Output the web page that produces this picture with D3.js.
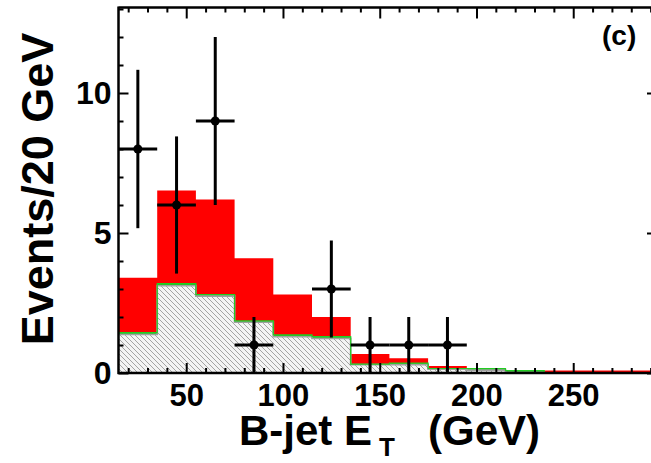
<!DOCTYPE html>
<html>
<head>
<meta charset="utf-8">
<script src="https://cdn.jsdelivr.net/npm/d3@7"></script>
<style>
  html, body { margin: 0; padding: 0; background: #fff; }
  svg { display: block; }
  text { font-family: "Liberation Sans", Arial, sans-serif; font-weight: bold; fill: #000; }
</style>
</head>
<body>
<svg id="chart" width="651" height="463"></svg>
<script>
// ---- data ----
const binLow = [15, 35, 55, 75, 95, 115, 135, 155, 175, 195, 215, 235, 255, 275];
const binWidth = 20;
const hatchedBkg = [1.38, 3.12, 2.75, 1.82, 1.30, 1.24, 0.30, 0.30, 0.14, 0.10, 0.02, 0.00, 0.00, 0.00];
const greenBkg   = [0.06, 0.07, 0.05, 0.04, 0.06, 0.06, 0.02, 0.05, 0.02, 0.06, 0.07, 0.01, 0.00, 0.00];
const redSignal  = [1.96, 3.33, 3.40, 2.24, 1.44, 0.70, 0.36, 0.18, 0.09, 0.00, 0.00, 0.08, 0.09, 0.09];
const dataX = [25, 45, 65, 85, 125, 145, 165, 185];
const dataY = [8, 6, 9, 1, 3, 1, 1, 1];
const xTickValues = [50, 100, 150, 200, 250];
const yTickValues = [0, 5, 10];
const xTitle = "B-jet E";
const xTitleSub = "T";
const xTitleUnit = "(GeV)";
const yTitle = "Events/20 GeV";
const panelLabel = "(c)";

// ---- layout ----
const pL = 118.5, pR = 658, pT = 7.5, pB = 373;
const xDomain = [15, 15 + (pR - pL) / 1.935];
const x = d3.scaleLinear().domain(xDomain).range([pL, pR]);
const y = d3.scaleLinear().domain([0, (pB - pT) / 28]).range([pB, pT]);

const svg = d3.select("#chart");

const defs = svg.append("defs");
const pat = defs.append("pattern").attr("id", "hatch")
  .attr("patternUnits", "userSpaceOnUse").attr("width", 5).attr("height", 5);
pat.append("rect").attr("width", 5).attr("height", 5).attr("fill", "#f4f4f4");
pat.append("path").attr("d", "M-1,-1 L6,6 M-1,4 L1,6 M4,-1 L6,1")
  .attr("stroke", "#a4a4a4").attr("stroke-width", 1);
defs.append("clipPath").attr("id", "plotclip").append("rect")
  .attr("x", pL).attr("y", pT).attr("width", pR - pL).attr("height", pB - pT);

// stacked step areas
const bins = binLow.map((lo, i) => {
  const g = hatchedBkg[i], gr = greenBkg[i], r = redSignal[i];
  return { lo, g, gg: g + gr, t: g + gr + r };
});
const pts = bins.concat([{ ...bins[bins.length - 1], lo: binLow[binLow.length - 1] + binWidth }]);

const plot = svg.append("g").attr("clip-path", "url(#plotclip)");
const area = (y0f, y1f) => d3.area().curve(d3.curveStepAfter)
  .x(d => x(d.lo)).y0(d => y(y0f(d))).y1(d => y(y1f(d)));

plot.append("path").datum(pts).attr("d", area(d => d.gg, d => d.t)).attr("fill", "#ff0000");
plot.append("path").datum(pts).attr("d", area(d => d.g, d => d.gg)).attr("fill", "#00cc00");
plot.append("path").datum(pts).attr("d", area(d => 0, d => d.g)).attr("fill", "url(#hatch)");
plot.append("path").datum(pts)
  .attr("d", d3.line().curve(d3.curveStepAfter).x(d => x(d.lo)).y(d => y(d.g)))
  .attr("fill", "none").attr("stroke", "#a0a0a0").attr("stroke-width", 1.8);
plot.append("path").datum(pts)
  .attr("d", d3.line().curve(d3.curveStepAfter).x(d => x(d.lo)).y(d => y(d.gg)))
  .attr("fill", "none").attr("stroke", "#22cc22").attr("stroke-width", 1.2);

// axes ticks
function styleAxis(g) {
  g.select(".domain").remove();
  g.selectAll(".tick line").attr("stroke", "#000").attr("stroke-width", 2);
}
const xMinor = d3.range(20, 300, 10).filter(v => v % 50 !== 0 && v <= xDomain[1]);
const yMinor = d3.range(1, 14, 1).filter(v => v % 5 !== 0 && v <= y.domain()[1]);

svg.append("g").attr("transform", `translate(0,${pB})`)
  .call(d3.axisBottom(x).tickValues(xMinor).tickSize(-5).tickFormat(""))
  .call(styleAxis);
svg.append("g").attr("transform", `translate(0,${pB})`)
  .call(d3.axisBottom(x).tickValues(xTickValues).tickSize(-10).tickPadding(11))
  .call(styleAxis)
  .call(g => g.selectAll("text").attr("font-size", 31).attr("font-weight", "bold")
    .attr("font-family", "Liberation Sans, Arial, sans-serif").attr("fill", "#000"));
svg.append("g").attr("transform", `translate(0,${pT})`)
  .call(d3.axisTop(x).tickValues(xMinor).tickSize(-5).tickFormat(""))
  .call(styleAxis);
svg.append("g").attr("transform", `translate(0,${pT})`)
  .call(d3.axisTop(x).tickValues(xTickValues).tickSize(-11).tickFormat(""))
  .call(styleAxis);

svg.append("g").attr("transform", `translate(${pL},0)`)
  .call(d3.axisLeft(y).tickValues(yMinor).tickSize(-5).tickFormat(""))
  .call(styleAxis);
svg.append("g").attr("transform", `translate(${pL},0)`)
  .call(d3.axisLeft(y).tickValues(yTickValues).tickSize(-10).tickPadding(7))
  .call(styleAxis)
  .call(g => g.selectAll("text").attr("font-size", 32).attr("font-weight", "bold")
    .attr("font-family", "Liberation Sans, Arial, sans-serif").attr("fill", "#000"));
svg.append("g").attr("transform", `translate(${pR},0)`)
  .call(d3.axisRight(y).tickValues(yMinor).tickSize(-6).tickFormat(""))
  .call(styleAxis);
svg.append("g").attr("transform", `translate(${pR},0)`)
  .call(d3.axisRight(y).tickValues(yTickValues).tickSize(-11).tickFormat(""))
  .call(styleAxis);

// frame
svg.append("path")
  .attr("d", `M${pL},${pT} L${pR},${pT} M${pL},${pT - 1} L${pL},${pB + 1} M${pL - 1},${pB} L${pR},${pB}`)
  .attr("stroke", "#000").attr("stroke-width", 2.5).attr("fill", "none");

// data points with errors
const pg = svg.append("g");
dataX.forEach((xv, i) => {
  const n = dataY[i], e = Math.sqrt(n);
  pg.append("line").attr("x1", x(xv)).attr("x2", x(xv))
    .attr("y1", y(n - e)).attr("y2", y(n + e))
    .attr("stroke", "#000").attr("stroke-width", 3);
  pg.append("line").attr("x1", x(xv - binWidth / 2)).attr("x2", x(xv + binWidth / 2))
    .attr("y1", y(n)).attr("y2", y(n))
    .attr("stroke", "#000").attr("stroke-width", 3);
  pg.append("circle").attr("cx", x(xv)).attr("cy", y(n)).attr("r", 4.5).attr("fill", "#000");
});

// titles
svg.append("text").attr("transform", "translate(53,189) rotate(-90)")
  .attr("text-anchor", "middle").attr("font-size", 45).text(yTitle);

const xt = svg.append("text").attr("x", 239).attr("y", 445).attr("font-size", 42);
xt.append("tspan").text(xTitle);
xt.append("tspan").attr("x", 379).attr("dy", 11).attr("font-size", 26).text(xTitleSub);
xt.append("tspan").attr("x", 428).attr("dy", -11).text(xTitleUnit);

svg.append("text").attr("x", 602).attr("y", 45).attr("font-size", 28).text(panelLabel);
</script>
</body>
</html>
